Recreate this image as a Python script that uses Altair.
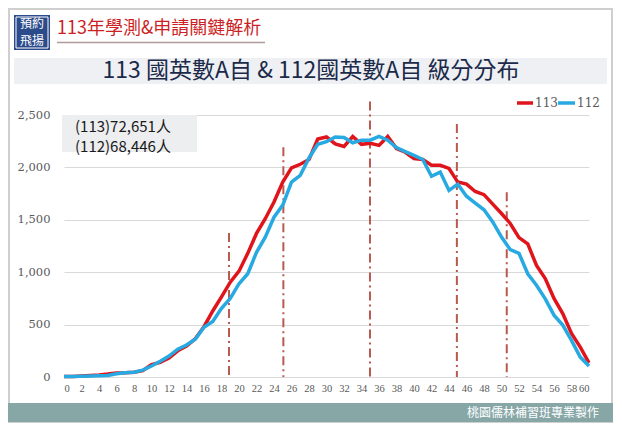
import altair as alt
import pandas as pd

# ---- data ----
scores = list(range(0, 61))
y113 = [5, 5, 10, 15, 20, 28, 38, 40, 45, 60,
        118, 140, 180, 250, 295, 365, 480, 630, 765, 905,
        1010, 1180, 1370, 1510, 1670, 1860, 1995, 2030, 2075, 2270,
        2290, 2225, 2200, 2295, 2220, 2230, 2210, 2295, 2180, 2145,
        2085, 2075, 2020, 2020, 1990, 1860, 1840, 1770, 1740, 1650,
        1560, 1465, 1330, 1270, 1065, 940, 750, 605, 415, 285,
        135]
y112 = [5, 5, 8, 10, 12, 15, 30, 40, 45, 65,
        105, 150, 200, 265, 305, 360, 475, 530, 655, 750,
        890, 985, 1190, 1335, 1525, 1640, 1860, 1925, 2090, 2220,
        2245, 2290, 2285, 2235, 2260, 2260, 2295, 2260, 2190, 2150,
        2115, 2075, 1915, 1955, 1780, 1840, 1725, 1660, 1595, 1480,
        1335, 1215, 1180, 985, 875, 745, 590, 495, 350, 190,
        105]
marker_x = [18.86, 25.07, 34.97, 44.9, 50.6]
marker_top = [1374, 2193, 2629, 2413, 1763]
x_ticks = list(range(0, 61, 2))
y_ticks = [0, 500, 1000, 1500, 2000, 2500]

header_title = "113年學測&申請關鍵解析"
main_title = "113 國英數A自 & 112國英數A自 級分分布"
note_lines = ["(113)72,651人", "(112)68,446人"]
footer_text = "桃園儒林補習班專業製作"
logo_lines = ["預約", "飛揚"]

RED = "#e0141b"
BLUE = "#27a9e1"
CJK = "Noto Sans CJK TC"

W, H = 525, 262

xs = alt.Scale(domain=[0, 60], nice=False, zero=False)
ys = alt.Scale(domain=[0, 2500], nice=False)
xaxis = alt.Axis(values=x_ticks, title=None, grid=False, domain=False,
                 ticks=False, labelFont="Liberation Serif", labelFontSize=10.5,
                 labelColor="#595959", labelPadding=6, labelOverlap=False)
yaxis = alt.Axis(values=y_ticks, title=None, grid=True,
                 labelExpr="format(datum.value, ',')",
                 gridColor="#d9d9d9", domain=False, ticks=False,
                 labelFont="DejaVu Serif", labelFontSize=11.5,
                 labelColor="#595959", labelPadding=14, labelOverlap=False)

d113 = pd.DataFrame({"score": scores, "count": y113})
d112 = pd.DataFrame({"score": scores, "count": y112})
mdf = pd.DataFrame({"score": marker_x, "count": marker_top,
                    "base": [0] * len(marker_x)})

def one(text):
    return alt.Chart(pd.DataFrame({"t": [text]}))

# frame
frame = one("f").mark_rect(fill=None, stroke="#cfcfcf", strokeWidth=2).encode(
    x=alt.value(-55), x2=alt.value(548), y=alt.value(-106), y2=alt.value(307))

# logo
logo_box = one("l").mark_rect(fill="#2c4b8a").encode(
    x=alt.value(-50), x2=alt.value(-14), y=alt.value(-100), y2=alt.value(-65))
logo_inner = one("l").mark_rect(fill=None, stroke="white", strokeWidth=1).encode(
    x=alt.value(-48), x2=alt.value(-16), y=alt.value(-98), y2=alt.value(-67))
logo_t1 = one(logo_lines[0]).mark_text(font=CJK, fontSize=12, color="white",
                                       align="center", baseline="middle").encode(
    x=alt.value(-32), y=alt.value(-91), text="t:N")
logo_t2 = one(logo_lines[1]).mark_text(font=CJK, fontSize=12, color="white",
                                       align="center", baseline="middle").encode(
    x=alt.value(-32), y=alt.value(-74), text="t:N")

head = one(header_title).mark_text(font=CJK, fontSize=18, color="#cc1f26",
                                   align="left", baseline="middle").encode(
    x=alt.value(-7), y=alt.value(-86), text="t:N")
head_line = one("u").mark_rule(color="#b09a9a", strokeWidth=1.5).encode(
    x=alt.value(-7), x2=alt.value(201), y=alt.value(-72.5))

band = one("b").mark_rect(fill="#eef0f3").encode(
    x=alt.value(-50), x2=alt.value(543), y=alt.value(-57), y2=alt.value(-31))
title = one(main_title).mark_text(font=CJK, fontSize=23, color="#1b2a4a",
                                  align="center", baseline="middle").encode(
    x=alt.value(247), y=alt.value(-44), text="t:N")

note_box = one("n").mark_rect(fill="#eceef0").encode(
    x=alt.value(-2), x2=alt.value(133), y=alt.value(0), y2=alt.value(37))
note1 = one(note_lines[0]).mark_text(font=CJK, fontSize=15, color="#1a1a1a",
                                     align="left", baseline="middle").encode(
    x=alt.value(11), y=alt.value(11.5), text="t:N")
note2 = one(note_lines[1]).mark_text(font=CJK, fontSize=15, color="#1a1a1a",
                                     align="left", baseline="middle").encode(
    x=alt.value(11), y=alt.value(31.5), text="t:N")

markers = alt.Chart(mdf).mark_rule(color="#b85a50", strokeWidth=2,
                                   strokeDash=[9, 4, 2, 4]).encode(
    x=alt.X("score:Q", scale=xs, axis=xaxis),
    y=alt.Y("count:Q", scale=ys, axis=yaxis),
    y2="base:Q")

line113 = alt.Chart(d113).mark_line(color=RED, strokeWidth=3.5).encode(
    x=alt.X("score:Q", scale=xs, axis=xaxis), y=alt.Y("count:Q", scale=ys, axis=yaxis))
line112 = alt.Chart(d112).mark_line(color=BLUE, strokeWidth=3.5).encode(
    x=alt.X("score:Q", scale=xs, axis=xaxis), y=alt.Y("count:Q", scale=ys, axis=yaxis))

# legend
leg_r = one("r").mark_rule(color=RED, strokeWidth=3.5).encode(
    x=alt.value(453), x2=alt.value(469), y=alt.value(-12))
leg_rt = one("113").mark_text(font="DejaVu Serif", fontSize=12, color="#595959",
                               align="left", baseline="middle").encode(
    x=alt.value(471), y=alt.value(-12), text="t:N")
leg_b = one("b").mark_rule(color=BLUE, strokeWidth=3.5).encode(
    x=alt.value(494), x2=alt.value(511), y=alt.value(-12))
leg_bt = one("112").mark_text(font="DejaVu Serif", fontSize=12, color="#595959",
                               align="left", baseline="middle").encode(
    x=alt.value(513), y=alt.value(-12), text="t:N")

footer = one("f").mark_rect(fill="#87a7a7").encode(
    x=alt.value(-56), x2=alt.value(549), y=alt.value(288), y2=alt.value(307))
footer_t = one(footer_text).mark_text(font=CJK, fontSize=12, color="white",
                                      align="right", baseline="middle").encode(
    x=alt.value(535), y=alt.value(298), text="t:N")

chart = alt.layer(
    markers, line113, line112, frame, logo_box, logo_inner, logo_t1, logo_t2,
    head, head_line, band, title, note_box, note1, note2,
    leg_r, leg_rt, leg_b, leg_bt, footer, footer_t
).properties(
    width=W, height=H,
    autosize=alt.AutoSizeParams(type="none"),
    padding={"left": 56, "top": 107, "right": 25, "bottom": 46},
    background="white"
).configure_view(stroke=None)

chart.save("out.html", embed_options={"renderer": "svg", "actions": False})
